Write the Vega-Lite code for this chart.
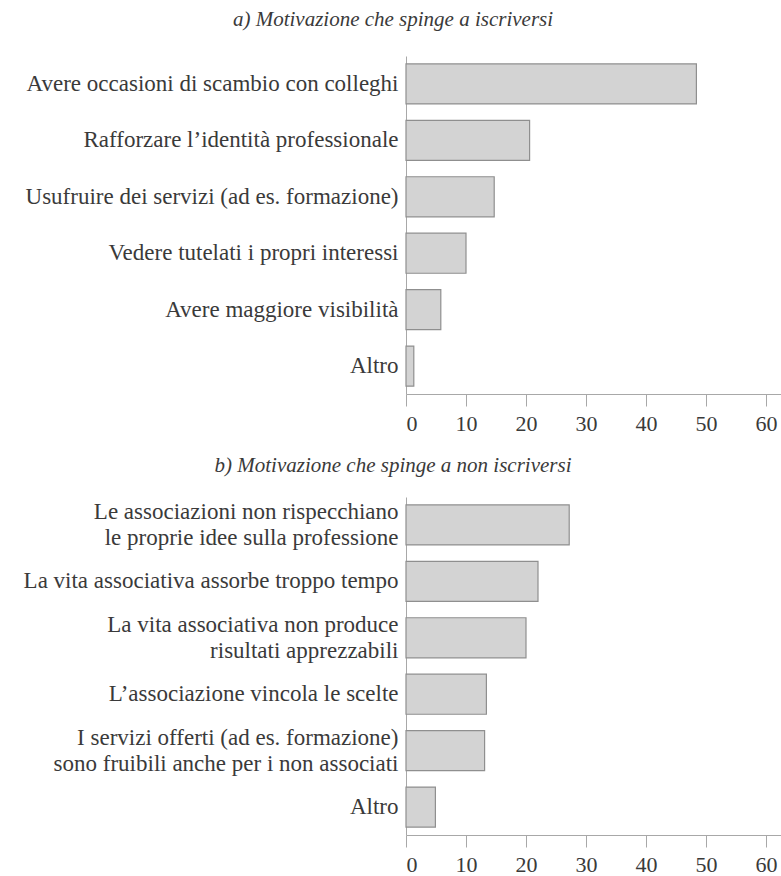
{
  "$schema": "https://vega.github.io/schema/vega-lite/v6.json",
  "padding": {"left": 5, "top": 9, "right": 0, "bottom": 0},
  "spacing": 21,
  "config": {
    "font": "Liberation Serif",
    "view": {"stroke": null},
    "axis": {
      "domainColor": "#a8a8a8",
      "tickColor": "#a8a8a8",
      "labelColor": "#3a3a3a",
      "labelFont": "Liberation Serif",
      "grid": false,
      "title": null
    },
    "title": {"font": "Liberation Serif", "fontStyle": "italic", "fontWeight": "normal", "fontSize": 21, "color": "#3a3a3a", "anchor": "middle", "frame": "bounds"}
  },
  "datasets": {
    "a": [
      {"motivo": "Avere occasioni di scambio con colleghi", "pct": 48.4},
      {"motivo": "Rafforzare l’identità professionale", "pct": 20.6},
      {"motivo": "Usufruire dei servizi (ad es. formazione)", "pct": 14.7},
      {"motivo": "Vedere tutelati i propri interessi", "pct": 10.0},
      {"motivo": "Avere maggiore visibilità", "pct": 5.8},
      {"motivo": "Altro", "pct": 1.3}
    ],
    "b": [
      {"motivo": "Le associazioni non rispecchiano|le proprie idee sulla professione", "pct": 27.2},
      {"motivo": "La vita associativa assorbe troppo tempo", "pct": 22.0},
      {"motivo": "La vita associativa non produce|risultati apprezzabili", "pct": 20.0},
      {"motivo": "L’associazione vincola le scelte", "pct": 13.4},
      {"motivo": "I servizi offerti (ad es. formazione)|sono fruibili anche per i non associati", "pct": 13.1},
      {"motivo": "Altro", "pct": 4.9}
    ]
  },
  "vconcat": [
    {
      "title": {"text": "a) Motivazione che spinge a iscriversi", "offset": 26},
      "data": {"name": "a"},
      "width": 375,
      "height": 338,
      "mark": {"type": "bar", "fill": "#d3d3d3", "stroke": "#8f8f8f", "strokeWidth": 1.2},
      "encoding": {
        "y": {"field": "motivo", "type": "nominal", "sort": null,
              "scale": {"paddingInner": 0.29, "paddingOuter": 0.14},
              "axis": {"ticks": false, "labelFontSize": 23, "labelPadding": 8, "labelLimit": 500, "minExtent": 401, "maxExtent": 401, "labelExpr": "split(datum.label, '|')"}},
        "x": {"field": "pct", "type": "quantitative",
              "scale": {"domain": [0, 62.5], "nice": false},
              "axis": {"values": [0, 10, 20, 30, 40, 50, 60], "tickSize": 12, "labelFontSize": 22, "labelPadding": 7}}
      }
    },
    {
      "title": {"text": "b) Motivazione che spinge a non iscriversi", "offset": 21},
      "data": {"name": "b"},
      "width": 375,
      "height": 338,
      "mark": {"type": "bar", "fill": "#d3d3d3", "stroke": "#8f8f8f", "strokeWidth": 1.2},
      "encoding": {
        "y": {"field": "motivo", "type": "nominal", "sort": null,
              "scale": {"paddingInner": 0.29, "paddingOuter": 0.14},
              "axis": {"ticks": false, "labelFontSize": 23, "labelPadding": 8, "labelLimit": 500, "minExtent": 401, "maxExtent": 401,
                       "labelExpr": "split(datum.label, '|')", "labelLineHeight": 26,
                       "labelOffset": {"condition": {"test": "indexof(datum.value, '|') >= 0", "value": -13}, "value": 0}}},
        "x": {"field": "pct", "type": "quantitative",
              "scale": {"domain": [0, 62.5], "nice": false},
              "axis": {"values": [0, 10, 20, 30, 40, 50, 60], "tickSize": 12, "labelFontSize": 22, "labelPadding": 7}}
      }
    }
  ]
}
